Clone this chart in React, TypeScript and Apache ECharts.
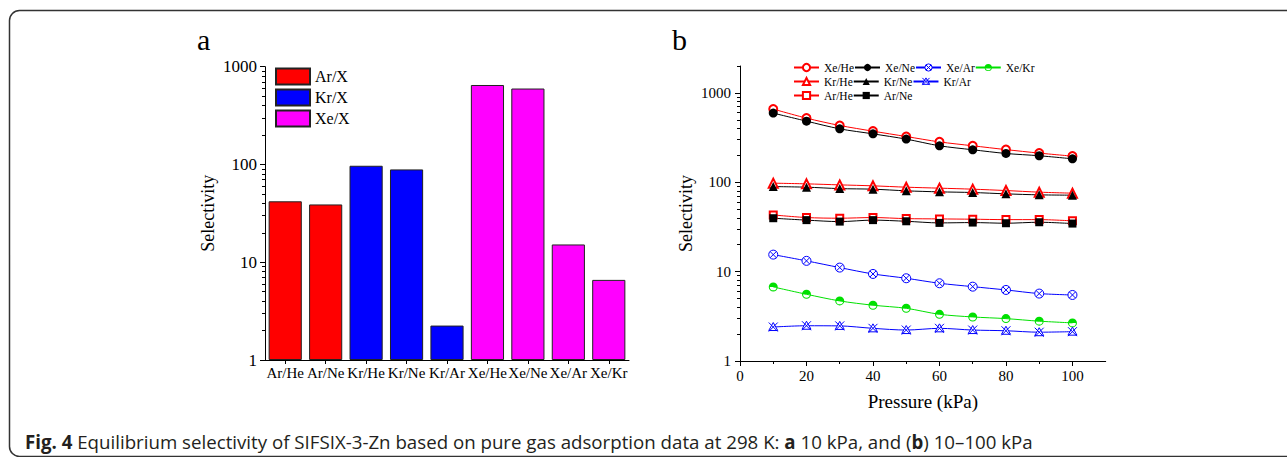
import React, { useEffect, useRef } from 'react';
import * as echarts from 'echarts';

// ---------- Panel a data ----------
const barCategories = ['Ar/He', 'Ar/Ne', 'Kr/He', 'Kr/Ne', 'Kr/Ar', 'Xe/He', 'Xe/Ne', 'Xe/Ar', 'Xe/Kr'];
const barValues = [42, 39, 97, 89, 2.25, 650, 598, 15.2, 6.6];
const barGroups = ['Ar/X', 'Ar/X', 'Kr/X', 'Kr/X', 'Kr/X', 'Xe/X', 'Xe/X', 'Xe/X', 'Xe/X'];
const groupNames = ['Ar/X', 'Kr/X', 'Xe/X'];
const groupColors = ['#ff0000', '#0000ff', '#ff00ff'];

// ---------- Panel b data ----------
const pressure = [10, 20, 30, 40, 50, 60, 70, 80, 90, 100];
const xeHe = [659, 522, 432, 373, 325, 283, 256, 232, 212, 196];
const xeNe = [594, 483, 396, 348, 304, 256, 231, 210, 198, 183];
const xeAr = [15.5, 13.2, 11.1, 9.42, 8.43, 7.41, 6.79, 6.24, 5.68, 5.48];
const xeKr = [6.74, 5.58, 4.7, 4.21, 3.89, 3.33, 3.11, 2.98, 2.79, 2.67];
const krHe = [97.7, 96, 93.5, 91.2, 88.1, 85.9, 83.7, 80.8, 77.5, 75.5];
const krNe = [89.5, 88.1, 84.9, 83.7, 80.2, 78.1, 76.8, 74.2, 72.3, 71.7];
const krAr = [2.4, 2.48, 2.47, 2.32, 2.22, 2.32, 2.22, 2.18, 2.1, 2.13];
const arHe = [43.1, 40.3, 39.6, 40.3, 39.2, 38.9, 38.6, 38.2, 38.2, 37.0];
const arNe = [39.6, 37.7, 36.3, 37.7, 36.6, 35.1, 35.4, 34.8, 35.7, 34.5];

// ---------- Tick values ----------
const logMajorA = [1, 10, 100, 1000];
const logMinorA = [2, 3, 4, 5, 6, 7, 8, 9, 20, 30, 40, 50, 60, 70, 80, 90, 200, 300, 400, 500, 600, 700, 800, 900];
const logMajorB = [1, 10, 100, 1000];
const logMinorB = [2, 3, 4, 5, 6, 7, 8, 9, 20, 30, 40, 50, 60, 70, 80, 90, 200, 300, 400, 500, 600, 700, 800, 900, 2000];
const pressureMajor = [0, 20, 40, 60, 80, 100];
const pressureMinor = [10, 30, 50, 70, 90];

const legendRow1 = ['Xe/He', 'Xe/Ne', 'Xe/Ar', 'Xe/Kr'];
const legendRow2 = ['Kr/He', 'Kr/Ne', 'Kr/Ar'];
const legendRow3 = ['Ar/He', 'Ar/Ne'];

const SERIF = 'Liberation Serif';

const SYM_XAR = 'path://M10,0A10,10,0,1,1,-10,0A10,10,0,1,1,10,0ZM-7.07,-7.07L7.07,7.07M7.07,-7.07L-7.07,7.07';
const SYM_XKR = 'path://M-10,0A10,10,0,0,1,10,0ZM10,0A10,10,0,0,1,-10,0L-7.6,0A7.6,7.6,0,0,0,7.6,0Z';
const SYM_KRAR = 'path://M0,-9L9,7L-9,7ZM-9,-9L9,9M9,-9L-9,9';

const plainNum = (v: number) => String(v);

export default function App() {
  const ref = useRef<HTMLDivElement>(null);

  useEffect(() => {
    if (!ref.current) return;
    const chart = echarts.init(ref.current, null, { renderer: 'svg' });

    const barSeries = groupNames.map((g, gi) => ({
      name: g,
      type: 'bar',
      xAxisIndex: 0,
      yAxisIndex: 0,
      barWidth: '82%',
      barGap: '-100%',
      itemStyle: { color: groupColors[gi], borderColor: '#222', borderWidth: 1 },
      data: barValues.map((v, i) => (barGroups[i] === g ? v : '-')),
    }));

    const styles: Record<string, any> = {
      'Xe/He': { color: '#ff0000', borderWidth: 1 },
      'Xe/Ne': { color: '#000000' },
      'Xe/Ar': { color: '#ffffff', borderColor: '#0000ff', borderWidth: 1 },
      'Xe/Kr': { color: '#00e000', borderWidth: 0 },
      'Kr/He': { color: '#ff0000', borderWidth: 1 },
      'Kr/Ne': { color: '#000000' },
      'Kr/Ar': { color: '#ffffff', borderColor: '#0000ff', borderWidth: 1 },
      'Ar/He': { color: '#ff0000', borderWidth: 1 },
      'Ar/Ne': { color: '#000000' },
    };

    const mk = (name: string, vals: number[], color: string, symbol: string, size: number) => ({
      name,
      type: 'line',
      xAxisIndex: 1,
      yAxisIndex: 2,
      smooth: 0.3,
      symbol,
      symbolSize: size,
      lineStyle: { color, width: 1 },
      itemStyle: styles[name],
      data: pressure.map((p, i) => [p, vals[i]]),
    });

    const lineSeries = [
      mk('Xe/He', xeHe, '#ff0000', 'emptyCircle', 8),
      mk('Xe/Ne', xeNe, '#000000', 'circle', 9),
      mk('Xe/Ar', xeAr, '#0000ff', SYM_XAR, 9),
      mk('Xe/Kr', xeKr, '#00e000', SYM_XKR, 9),
      mk('Kr/He', krHe, '#ff0000', 'emptyTriangle', 9),
      mk('Kr/Ne', krNe, '#000000', 'triangle', 9),
      mk('Kr/Ar', krAr, '#0000ff', SYM_KRAR, 9),
      mk('Ar/He', arHe, '#ff0000', 'emptyRect', 7),
      mk('Ar/Ne', arNe, '#000000', 'rect', 8),
    ];

    const axisLine = { show: true, onZero: false, lineStyle: { color: '#000', width: 1 } };
    const labelBase = { fontFamily: SERIF, color: '#000' };

    const legendB = (data: string[], top: number) => ({
      data: data.map((n) => ({ name: n, itemStyle: styles[n] })),
      orient: 'horizontal',
      left: 793,
      top,
      padding: 0,
      itemWidth: 25,
      itemHeight: 9,
      itemGap: 0,
      selectedMode: false,
      textStyle: { fontFamily: SERIF, fontSize: 11.5, color: '#000', width: 30, overflow: 'none' },
    });

    chart.setOption({
      animation: false,
      backgroundColor: '#ffffff',
      grid: [
        { left: 265, top: 66.7, width: 364, height: 293.3 },
        { left: 740, top: 66, width: 365.7, height: 295 },
      ],
      xAxis: [
        {
          gridIndex: 0,
          type: 'category',
          data: barCategories,
          position: 'bottom',
          axisLine,
          axisTick: { show: true, alignWithLabel: true, length: 4, lineStyle: { color: '#000' } },
          axisLabel: { ...labelBase, interval: 0, fontSize: 15, margin: 5 },
          splitLine: { show: false },
        },
        {
          gridIndex: 1,
          type: 'value',
          min: 0,
          max: 110,
          position: 'bottom',
          axisLine,
          axisTick: { show: true, length: 5, customValues: pressureMajor, lineStyle: { color: '#000' } },
          axisLabel: { ...labelBase, fontSize: 15, margin: 7, customValues: pressureMajor, formatter: plainNum },
          splitLine: { show: false },
          name: 'Pressure (kPa)',
          nameLocation: 'middle',
          nameGap: 31,
          nameTextStyle: { fontFamily: SERIF, fontSize: 19, color: '#000' },
        },
        {
          gridIndex: 1,
          type: 'value',
          min: 0,
          max: 110,
          position: 'bottom',
          axisLine: { show: false, onZero: false },
          axisTick: { show: true, length: 3, customValues: pressureMinor, lineStyle: { color: '#000' } },
          axisLabel: { show: false },
          splitLine: { show: false },
        },
      ],
      yAxis: [
        {
          gridIndex: 0,
          type: 'log',
          logBase: 10,
          min: 1,
          max: 1000,
          position: 'left',
          axisLine,
          axisTick: { show: true, length: 5, customValues: logMajorA, lineStyle: { color: '#000' } },
          axisLabel: { ...labelBase, fontSize: 17, margin: 8, customValues: logMajorA, formatter: plainNum },
          splitLine: { show: false },
          name: 'Selectivity',
          nameLocation: 'middle',
          nameGap: 48,
          nameTextStyle: { fontFamily: SERIF, fontSize: 18, color: '#000' },
        },
        {
          gridIndex: 0,
          type: 'log',
          logBase: 10,
          min: 1,
          max: 1000,
          position: 'left',
          axisLine: { show: false, onZero: false },
          axisTick: { show: true, length: 3, customValues: logMinorA, lineStyle: { color: '#000' } },
          axisLabel: { show: false },
          splitLine: { show: false },
        },
        {
          gridIndex: 1,
          type: 'log',
          logBase: 10,
          min: 1,
          max: 2000,
          position: 'left',
          axisLine,
          axisTick: { show: true, length: 5, customValues: logMajorB, lineStyle: { color: '#000' } },
          axisLabel: { ...labelBase, fontSize: 15, margin: 9, customValues: logMajorB, formatter: plainNum },
          splitLine: { show: false },
          name: 'Selectivity',
          nameLocation: 'middle',
          nameGap: 45,
          nameTextStyle: { fontFamily: SERIF, fontSize: 18, color: '#000' },
        },
        {
          gridIndex: 1,
          type: 'log',
          logBase: 10,
          min: 1,
          max: 2000,
          position: 'left',
          axisLine: { show: false, onZero: false },
          axisTick: { show: true, length: 3, customValues: logMinorB, lineStyle: { color: '#000' } },
          axisLabel: { show: false },
          splitLine: { show: false },
        },
      ],
      legend: [
        {
          data: groupNames,
          orient: 'vertical',
          left: 275,
          top: 67.5,
          padding: 0,
          itemWidth: 34,
          itemHeight: 16,
          itemGap: 3,
          icon: 'rect',
          selectedMode: false,
          textStyle: { fontFamily: SERIF, fontSize: 16, color: '#000' },
        },
        legendB(legendRow1, 61.5),
        legendB(legendRow2, 75.5),
        legendB(legendRow3, 89.5),
      ],
      graphic: [
        {
          type: 'rect',
          silent: true,
          shape: { x: 9.5, y: 10.5, width: 1320, height: 446, r: 10 },
          style: { fill: 'none', stroke: '#333', lineWidth: 1.5 },
        },
        {
          type: 'text',
          silent: true,
          x: 197,
          y: 54,
          style: { text: 'a', fontFamily: SERIF, fontSize: 30, fill: '#000', textVerticalAlign: 'bottom' },
        },
        {
          type: 'text',
          silent: true,
          x: 672,
          y: 54,
          style: { text: 'b', fontFamily: SERIF, fontSize: 30, fill: '#000', textVerticalAlign: 'bottom' },
        },
        {
          type: 'text',
          silent: true,
          x: 25,
          y: 441,
          style: {
            text: '{b|Fig. 4} Equilibrium selectivity of SIFSIX-3-Zn based on pure gas adsorption data at 298 K: {b|a} 10 kPa, and ({b|b}) 10–100 kPa',
            fontFamily: 'Open Sans',
            fontSize: 18.7,
            fill: '#231f20',
            textVerticalAlign: 'middle',
            rich: {
              b: { fontFamily: 'Open Sans', fontSize: 18.7, fontWeight: 'bold', fill: '#231f20' },
            },
          },
        },
      ],
      series: [...barSeries, ...lineSeries],
    });

    return () => chart.dispose();
  }, []);

  return (
    <div
      ref={ref}
      style={{ position: 'absolute', left: 0, top: 0, width: 1287, height: 457, background: '#fff' }}
    />
  );
}
